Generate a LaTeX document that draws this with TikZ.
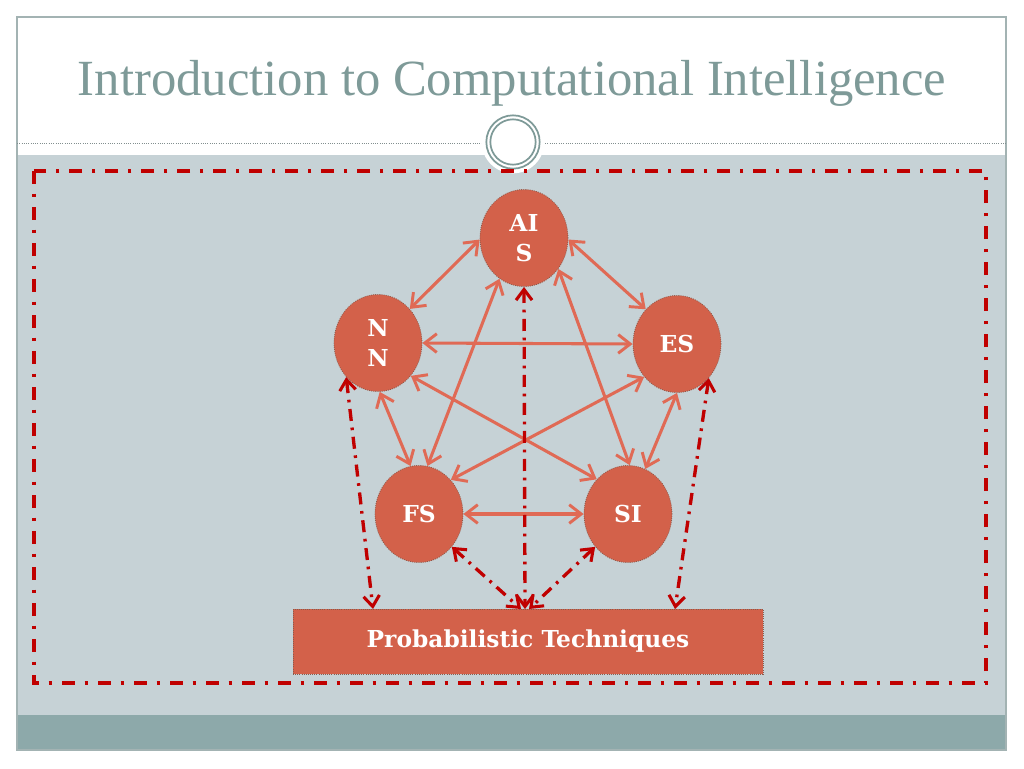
\documentclass[tikz,border=0pt]{standalone}
\usepackage{fontspec}
\setmainfont{Liberation Serif}
\newfontfamily\nodefont{DejaVu Serif}
\usetikzlibrary{arrows.meta,shapes.geometric}
\definecolor{bggray}{HTML}{C6D2D6}
\definecolor{bandteal}{HTML}{8DA9AA}
\definecolor{framegray}{HTML}{A3B3B3}
\definecolor{titlecol}{HTML}{7E9A98}
\definecolor{nodefill}{HTML}{D3614A}
\definecolor{nodeedge}{HTML}{8A5A4C}
\definecolor{linkcol}{HTML}{E06A55}
\definecolor{redcol}{HTML}{C00000}
\tikzset{
  ball/.style={ellipse, fill=nodefill, draw=nodeedge, densely dotted, line width=0.6pt,
    minimum width=66pt, minimum height=72.75pt, inner sep=0pt, text=white,
    font=\nodefont\bfseries\fontsize{17.5}{22.5}\selectfont, align=center},
  probbox/.style={rectangle, fill=nodefill, draw=nodeedge, densely dotted, line width=0.6pt,
    minimum width=352.5pt, minimum height=48.75pt, inner sep=0pt, text=white,
    font=\nodefont\bfseries\fontsize{17.5}{22}\selectfont},
  link/.style={draw=linkcol, line width=2.3pt,
    {Straight Barb[length=9pt,width=14pt,line width=2.2pt]}-{Straight Barb[length=9pt,width=14pt,line width=2.2pt]}},
  redlink/.style={draw=redcol, line width=2.5pt, dash pattern=on 9pt off 5pt on 2pt off 5pt,
    {Straight Barb[length=8pt,width=12pt,line width=2.3pt]}-{Straight Barb[length=8pt,width=12pt,line width=2.3pt]}},
  frameborder/.style={draw=redcol, line width=2.7pt, dash pattern=on 9.5pt off 7.5pt on 2.5pt off 7.5pt}
}
\begin{document}
\begin{tikzpicture}[x=0.75pt,y=-0.75pt]
\useasboundingbox (0,0) rectangle (1024,768);
\fill[white] (0,0) rectangle (1024,768);
% slide frame
\fill[white] (17,17) rectangle (1006,155);
\fill[bggray] (17,155) rectangle (1006,715);
\fill[bandteal] (17,715) rectangle (1006,750);
\draw[framegray, line width=0.8pt] (17,17) rectangle (1006,750);
\draw[framegray!80!black, line width=0.7pt, densely dotted] (17,143) -- (1006,143);
% title
\node[text=titlecol, font=\fontsize{38}{42}\selectfont, anchor=base] (title) at (512,95) {Introduction to Computational Intelligence};
% ornament
\fill[white] (513,142) circle[radius=23.5pt];
\draw[titlecol, line width=1.3pt] (513,142) circle[radius=20pt];
\draw[titlecol, line width=1.3pt] (513,142) circle[radius=17pt];
% dash-dot frame
\draw[frameborder] (34,171) rectangle (986,683);
% nodes
\node[ball] (ais) at (524,238) {AI\\S};
\node[ball] (nn) at (378,343) {N\\N};
\node[ball] (es) at (677,344) {ES};
\node[ball] (fs) at (419,514) {FS};
\node[ball] (si) at (628,514) {SI};
\node[probbox] (pt) at (528,641.5) {Probabilistic Techniques};
\coordinate (p1) at (373,609);
\coordinate (p2) at (675,609);
\coordinate (p3) at (525,609);
\coordinate (p4) at (521,609);
\coordinate (p5) at (529,609);
% solid links
\draw[link] (ais.182) -- (nn.47);
\draw[link] (ais.358) -- (es.132);
\draw[link] (nn.0) -- (es.180);
\draw[link] (ais.239) -- (fs.80);
\draw[link] (ais.318) -- (si.88);
\draw[link] (nn.315) -- (si.132);
\draw[link] (es.225) -- (fs.47);
\draw[link] (nn.272) -- (fs.100);
\draw[link] (es.270) -- (si.69);
\draw[link] (fs.0) -- (si.180);
% red dash-dot links
\draw[redlink] (nn.227) -- (p1);
\draw[redlink] (es.313) -- (p2);
\draw[redlink] (ais.270) -- (p3);
\draw[redlink] (fs.315) -- (p4);
\draw[redlink] (si.225) -- (p5);
\end{tikzpicture}
\end{document}
